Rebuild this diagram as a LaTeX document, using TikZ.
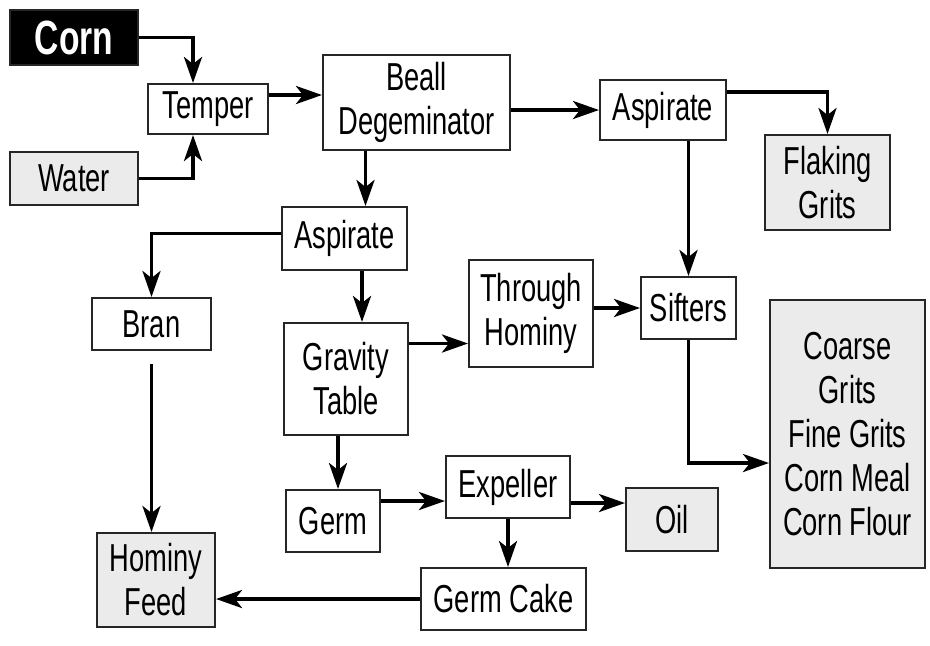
\documentclass[tikz,border=0pt]{standalone}
\usepackage{fontspec}
\setmainfont[FakeStretch=0.7]{Liberation Sans}
\usetikzlibrary{calc}
\usetikzlibrary{arrows.meta}
\tikzset{
	every path/.style={line width=1pt},
	wh/.style 2 args={
		minimum width=#1*0.5pt,
		minimum height=#2*0.5pt,
	},
	box/.style={
		draw=black!85,
		rectangle,
		inner sep=0pt,
		align=center,
		font=\fontsize{19.5}{22}\selectfont,
	},
	product/.style={
		box,
		fill=black!8,
	},
	raw/.style={
		box,
		fill=black,
		text=white,
		font=\fontsize{24}{26}\selectfont\bfseries,
	},
	flow/.style={
		line width=1.9pt,
		-{Stealth[length=13pt,width=9pt,inset=3.5pt]}
	},
}

\begin{document}
\begin{tikzpicture}[x=0.5pt,y=-0.5pt]
		\useasboundingbox (0,0) rectangle (930,645);

		\node[raw,wh={128}{55}] (corn) at (74,37.5) {Corn};
		\node[box,wh={120}{50}] (temper) at (208,109) {Temper};
		\node[product,wh={128}{53}] (water) at (74,178.5) {Water};
		\node[box,wh={187}{95}] (beall) at (416.5,102.5) {Beall\\Degeminator};
		\node[box,wh={126}{60}] (asp1) at (663,110) {Aspirate};
		\node[product,wh={125}{95}] (flaking) at (827.5,182.5) {Flaking\\Grits};

		\node[box,wh={125}{63}] (asp2) at (344.5,238.5) {Aspirate};
		\node[box,wh={119}{52}] (bran) at (151.5,324) {Bran};
		\node[box,wh={124}{107}] (through) at (531,313.5) {Through\\Hominy};
		\node[box,wh={95}{62}] (sifters) at (688.5,308) {Sifters};
		\node[box,wh={124}{112}] (gravity) at (346,379) {Gravity\\Table};
		\node[product,wh={155}{268}] (products) at (847.5,434) {Coarse\\Grits\\Fine Grits\\Corn Meal\\Corn Flour};

		\node[box,wh={94}{62}] (germ) at (333,521) {Germ};
		\node[box,wh={124}{62}] (expeller) at (508,487) {Expeller};
		\node[product,wh={92}{63}] (oil) at (672,519.5) {Oil};
		\node[product,wh={118}{94}] (feed) at (156,580) {Hominy\\Feed};
		\node[box,wh={165}{62}] (cake) at (503.5,599) {Germ Cake};

		% tempering
		\draw[flow] (corn.east) -| ($(temper.north)+(-15,0)$);
		\draw[flow] (water.east) -| ($(temper.south)+(-15,0)$);
		\draw[flow] ($(temper.east)+(0,-14)$) coordinate (t1) -- (t1 -| beall.west);

		% degermination
		\draw[flow] (asp1.west -| beall.east) -- (asp1.west);
		\draw[flow] ($(asp1.east)+(0,-18)$) -| (flaking.north);
		\draw[flow] (sifters.north |- asp1.south) -- (sifters.north);
		\draw[flow] ($(asp2.north)+(21,0)$) coordinate (b1) (b1 |- beall.south) -- (b1);

		\draw[flow] ($(asp2.west)+(0,-5)$) -| (bran.north);
		\draw[flow] ($(gravity.north)+(16,0)$) coordinate (a1) (a1 |- asp2.south) -- (a1);
		\draw[flow] ($(through.west)+(0,30)$) coordinate (g1) (g1 -| gravity.east) -- (g1);
		\draw[flow] (sifters.west -| through.east) -- (sifters.west);
		\draw[flow] (sifters.south) |- ($(products.west)+(0,29)$);

		% germ and feed
		\draw[flow] ($(bran.south)+(0,13)$) -- (bran.south |- feed.north);
		\draw[flow] ($(gravity.south)+(-8,0)$) coordinate (g2) -- (g2 |- germ.north);
		\draw[flow] ($(germ.east)+(0,-20)$) coordinate (g3) -- (g3 -| expeller.west);
		\draw[flow] ($(expeller.east)+(0,16)$) coordinate (e1) -- (e1 -| oil.west);
		\draw[flow] (expeller.south) -- (expeller.south |- cake.north);
		\draw[flow] (cake.west) -- (cake.west -| feed.east);

	\end{tikzpicture}
\end{document}
